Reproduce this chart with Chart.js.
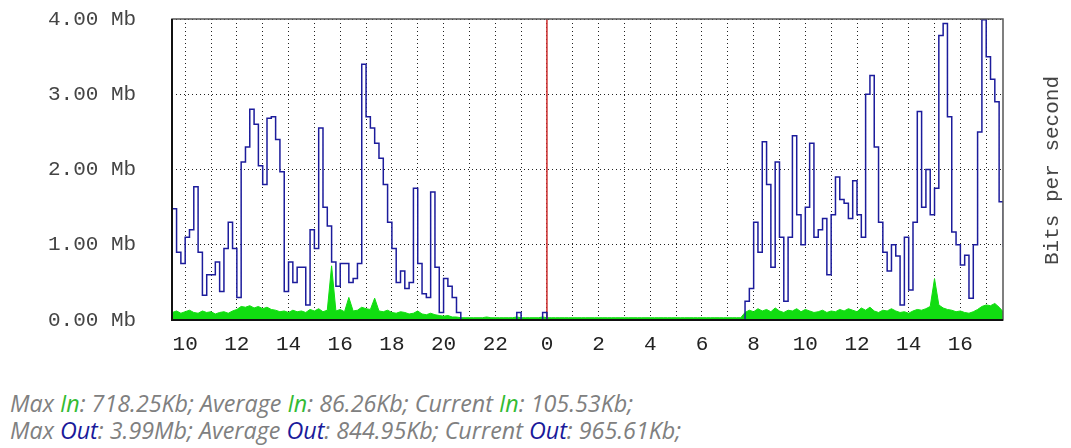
<!DOCTYPE html>
<html lang="en">

<head>
    <meta charset="UTF-8">
    <title>Traffic - Daily Graph</title>
    <script src="https://cdn.jsdelivr.net/npm/chart.js"></script>
    <style>
        body { margin: 0; background: #fff; }
        #caja { position: relative; width: 1071px; height: 375px; }
        #leyenda {
            position: absolute; left: 10px; top: 390px;
            font-family: "Open Sans", sans-serif; font-style: italic; font-size: 23.3px;
            line-height: 27px; color: #808080; white-space: nowrap;
        }
        .in { color: #33bb33; }
        .out { color: #1a1a9a; }
    </style>
</head>

<body>
    <div id="caja">
        <canvas id="grafico" width="1071" height="375"></canvas>
    </div>

    <div id="leyenda">
        <div>Max <span class="in">In</span>: 718.25Kb; Average <span class="in">In</span>: 86.26Kb; Current <span class="in">In</span>: 105.53Kb;</div>
        <div>Max <span class="out">Out</span>: 3.99Mb; Average <span class="out">Out</span>: 844.95Kb; Current <span class="out">Out</span>: 965.61Kb;</div>
    </div>

    <script>
        // hours counted from midnight of the first day, one sample every 10 minutes
        const horaInicio = 9.5;
        const pasoHoras = 1 / 6;
        const ejeMin = 9.49;
        const ejeMax = 41.65;
        const medianoche = 24;

        // Out (Mb/s)
        const outMb = [
            1.48, 0.90, 0.75, 1.10, 1.20, 1.77,
            0.90, 0.33, 0.60, 0.60, 0.77, 0.38,
            0.95, 1.30, 0.95, 0.30, 2.10, 2.30,
            2.80, 2.60, 2.05, 1.80, 2.68, 2.70,
            2.40, 1.97, 0.38, 0.77, 0.50, 0.70,
            0.70, 0.20, 1.20, 0.95, 2.55, 1.50,
            1.25, 0.77, 0.45, 0.75, 0.75, 0.50,
            0.55, 0.75, 3.40, 2.70, 2.55, 2.35,
            2.15, 1.80, 1.30, 0.95, 0.50, 0.65,
            0.42, 0.50, 1.75, 0.75, 0.35, 0.30,
            1.70, 0.70, 0.10, 0.55, 0.45, 0.30,
            0.10, 0, 0, 0, 0, 0,
            0, 0, 0, 0, 0, 0,
            0, 0, 0.10, 0, 0, 0,
            0, 0, 0.10, 0, 0, 0,
            0, 0, 0, 0, 0, 0,
            0, 0, 0, 0, 0, 0,
            0, 0, 0, 0, 0, 0,
            0, 0, 0, 0, 0, 0,
            0, 0, 0, 0, 0, 0,
            0, 0, 0, 0, 0, 0,
            0, 0, 0, 0, 0, 0,
            0, 0.25, 0.42, 1.30, 0.90, 2.37,
            1.80, 0.70, 2.10, 1.10, 0.25, 1.10,
            2.45, 1.40, 1.00, 1.50, 2.35, 1.10,
            1.20, 1.35, 0.60, 1.40, 1.90, 1.60,
            1.55, 1.35, 1.85, 1.40, 1.10, 3.00,
            3.25, 2.30, 1.30, 0.90, 0.65, 1.00,
            0.85, 0.20, 1.10, 0.40, 1.30, 2.77,
            1.50, 2.00, 1.40, 1.75, 3.78, 3.94,
            2.70, 1.17, 1.00, 0.73, 0.86, 0.29,
            1.00, 2.50, 3.99, 3.50, 3.20, 2.90,
            1.57, 0.97
        ];

        // In (Mb/s)
        const inMb = [
            0.10, 0.12, 0.09, 0.11, 0.13, 0.10,
            0.09, 0.12, 0.10, 0.11, 0.08, 0.10,
            0.11, 0.09, 0.12, 0.14, 0.18, 0.17,
            0.19, 0.16, 0.18, 0.15, 0.17, 0.14,
            0.13, 0.11, 0.12, 0.10, 0.13, 0.11,
            0.12, 0.10, 0.14, 0.12, 0.15, 0.11,
            0.13, 0.72, 0.12, 0.14, 0.11, 0.30,
            0.12, 0.13, 0.17, 0.15, 0.14, 0.29,
            0.12, 0.11, 0.13, 0.10, 0.09, 0.11,
            0.10, 0.08, 0.09, 0.12, 0.08, 0.07,
            0.09, 0.07, 0.06, 0.05, 0.06, 0.04,
            0.04, 0.03, 0.03, 0.03, 0.03, 0.03,
            0.03, 0.04, 0.03, 0.03, 0.03, 0.03,
            0.03, 0.03, 0.04, 0.03, 0.03, 0.03,
            0.03, 0.03, 0.04, 0.03, 0.03, 0.03,
            0.03, 0.03, 0.03, 0.03, 0.03, 0.03,
            0.03, 0.03, 0.03, 0.03, 0.03, 0.03,
            0.03, 0.03, 0.03, 0.03, 0.03, 0.03,
            0.03, 0.03, 0.03, 0.03, 0.03, 0.03,
            0.03, 0.03, 0.03, 0.03, 0.03, 0.03,
            0.03, 0.03, 0.03, 0.03, 0.03, 0.03,
            0.03, 0.03, 0.03, 0.03, 0.03, 0.03,
            0.03, 0.10, 0.13, 0.11, 0.15, 0.12,
            0.14, 0.11, 0.16, 0.12, 0.10, 0.13,
            0.12, 0.15, 0.11, 0.14, 0.12, 0.10,
            0.11, 0.13, 0.10, 0.12, 0.11, 0.14,
            0.12, 0.15, 0.13, 0.11, 0.16, 0.13,
            0.17, 0.12, 0.10, 0.13, 0.12, 0.15,
            0.12, 0.10, 0.11, 0.09, 0.12, 0.14,
            0.13, 0.15, 0.18, 0.55, 0.20, 0.16,
            0.14, 0.13, 0.11, 0.12, 0.10, 0.09,
            0.11, 0.14, 0.18, 0.20, 0.19, 0.22,
            0.17, 0.105
        ];

        const fuenteEjes = { family: "Liberation Mono", size: 21 };

        const puntos = (serie) => serie.map((v, i) => ({ x: horaInicio + i * pasoHoras, y: v }));

        // marco del grafico y texto vertical de la derecha
        const marco = {
            id: "marco",
            afterDatasetsDraw(chart) {
                const { ctx, chartArea: a } = chart;
                ctx.save();
                ctx.strokeStyle = "#555";
                ctx.lineWidth = 1.5;
                ctx.strokeRect(a.left, a.top, a.right - a.left, a.bottom - a.top);
                ctx.strokeStyle = "#111";
                ctx.lineWidth = 2;
                ctx.beginPath();
                ctx.moveTo(a.left, a.top);
                ctx.lineTo(a.left, a.bottom);
                ctx.lineTo(a.right, a.bottom);
                ctx.stroke();
                ctx.restore();
            },
            afterDraw(chart) {
                const { ctx, chartArea: a } = chart;
                ctx.save();
                ctx.translate(1052, (a.top + a.bottom) / 2 + 1);
                ctx.rotate(-Math.PI / 2);
                ctx.font = "21px 'Liberation Mono'";
                ctx.fillStyle = "#444";
                ctx.textAlign = "center";
                ctx.textBaseline = "middle";
                ctx.fillText("Bits per second", 0, 0);
                ctx.restore();
            }
        };

        new Chart(document.getElementById("grafico").getContext("2d"), {
            type: "line",
            data: {
                datasets: [
                    {
                        label: "Out",
                        data: puntos(outMb),
                        borderColor: "#1c1c9c",
                        borderWidth: 1.5,
                        pointRadius: 0,
                        stepped: true,
                        fill: false,
                        order: 0,
                    },
                    {
                        label: "Midnight",
                        data: [{ x: medianoche, y: 0 }, { x: medianoche, y: 4 }],
                        borderColor: "#cc2a2a",
                        borderWidth: 1.5,
                        pointRadius: 0,
                        fill: false,
                        order: 1,
                    },
                    {
                        label: "In",
                        data: puntos(inMb),
                        borderColor: "#11dd11",
                        backgroundColor: "#11dd11",
                        borderWidth: 1,
                        pointRadius: 0,
                        fill: "origin",
                        order: 2,
                    },
                ],
            },
            options: {
                responsive: false,
                animation: false,
                layout: { padding: { top: 19, right: 68, left: 48, bottom: 0 } },
                plugins: {
                    legend: { display: false },
                    tooltip: { enabled: false },
                },
                scales: {
                    x: {
                        type: "linear",
                        min: ejeMin,
                        max: ejeMax,
                        afterFit: (s) => { s.height = 55; },
                        grid: { color: "#222", lineWidth: 1, drawTicks: false },
                        border: { display: false, dash: [1, 3] },
                        ticks: {
                            stepSize: 1,
                            includeBounds: false,
                            autoSkip: false,
                            maxRotation: 0,
                            padding: 12,
                            color: "#222",
                            font: fuenteEjes,
                            callback: (v) => (Number.isInteger(v) && v % 2 === 0) ? String(v % 24) : "",
                        },
                    },
                    y: {
                        min: 0,
                        max: 4,
                        afterFit: (s) => { s.width = 124; },
                        grid: { color: "#222", lineWidth: 1, drawTicks: false },
                        border: { display: false, dash: [1, 3] },
                        ticks: {
                            stepSize: 1,
                            padding: 0,
                            crossAlign: "far",
                            color: "#444",
                            font: fuenteEjes,
                            callback: (v) => v.toFixed(2) + " Mb",
                        },
                    },
                },
            },
            plugins: [marco],
        });
    </script>
</body>

</html>
